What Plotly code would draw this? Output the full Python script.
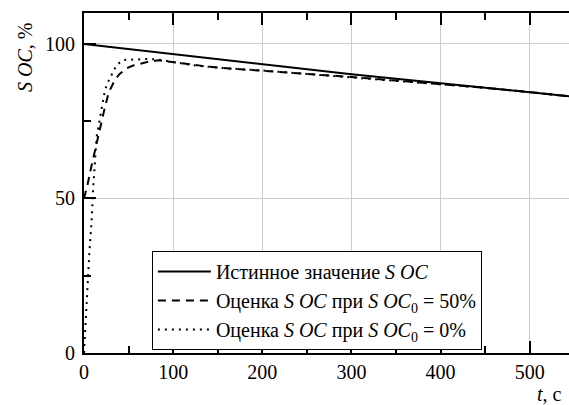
import plotly.graph_objects as go

# --- data ---
t_true = [0, 100, 200, 300, 400, 500, 545]
soc_true = [100, 96.7, 93.3, 90.2, 87.3, 84.4, 83.0]

t_est50 = [0, 2, 4, 8, 12, 16, 18.6, 22.3, 27.6, 34.7, 40, 47.8, 55, 63.5, 72, 83, 100, 120, 140, 160, 200, 250, 300, 350, 400, 450, 500, 545]
soc_est50 = [50, 52, 54.5, 60, 65, 71, 74.3, 78.1, 84.2, 88.4, 90.3, 92.1, 93.0, 93.6, 94.2, 94.7, 94.0, 93.2, 92.6, 92.1, 91.4, 90.3, 89.3, 88.2, 87.1, 85.8, 84.4, 83.0]

t_est0 = [0, 0.7, 1.9, 3.7, 6, 8.6, 10.4, 14.2, 18, 21, 23.5, 27.3, 31.7, 36.6, 44, 55, 70, 82, 92, 100, 120, 140, 160, 200, 250, 300, 350, 400, 450, 500, 545]
soc_est0 = [0, 4.2, 10.7, 21.5, 32.4, 43, 53.8, 70, 76.5, 81.4, 85.1, 87.9, 90.6, 93.2, 94.8, 95.0, 95.1, 95.0, 94.5, 94.0, 93.2, 92.6, 92.1, 91.4, 90.3, 89.3, 88.2, 87.1, 85.8, 84.4, 83.0]

names = [
    "Истинное значение <i>S OC</i>",
    "Оценка <i>S OC</i> при <i>S OC</i><sub>0</sub> = 50%",
    "Оценка <i>S OC</i> при <i>S OC</i><sub>0</sub> = 0%",
]

x_ticks = [0, 100, 200, 300, 400, 500]
y_ticks = [0, 50, 100]

FONT = "Liberation Serif"
FS = 20

fig = go.Figure()
fig.add_trace(go.Scatter(x=t_true, y=soc_true, mode="lines", name=names[0],
                         line=dict(color="black", width=2, dash="solid")))
fig.add_trace(go.Scatter(x=t_est50, y=soc_est50, mode="lines", name=names[1],
                         line=dict(color="black", width=2, dash="8px,6px")))
fig.add_trace(go.Scatter(x=t_est0, y=soc_est0, mode="lines", name=names[2],
                         line=dict(color="black", width=2, dash="2px,5px")))

fig.update_layout(
    width=569, height=405,
    margin=dict(l=84, r=0, t=13, b=52),
    plot_bgcolor="white", paper_bgcolor="white",
    font=dict(family=FONT, size=FS, color="black"),
    showlegend=True,
    legend=dict(x=0.14, y=0.30, xanchor="left", yanchor="top",
                bgcolor="white", bordercolor="black", borderwidth=1,
                font=dict(family=FONT, size=FS, color="black"),
                tracegroupgap=0, itemwidth=53),
    xaxis=dict(range=[0, 544], tickvals=x_ticks, ticktext=[str(v) for v in x_ticks],
               showline=True, linecolor="black", linewidth=2, mirror="allticks",
               ticks="inside", ticklen=12, tickwidth=2, tickcolor="black",
               showgrid=True, gridcolor="#cccccc", gridwidth=1, zeroline=False,
               minor=dict(dtick=50, ticks="inside", ticklen=7, tickwidth=1.5, tickcolor="black", showgrid=False),
               tickfont=dict(family=FONT, size=FS)),
    yaxis=dict(range=[0, 110], tickvals=y_ticks, ticktext=[str(v) for v in y_ticks],
               showline=True, linecolor="black", linewidth=2, mirror=False,
               ticks="inside", ticklen=12, tickwidth=2, tickcolor="black",
               showgrid=True, gridcolor="#cccccc", gridwidth=1, zeroline=False,
               minor=dict(dtick=25, ticks="inside", ticklen=7, tickwidth=1.5, tickcolor="black", showgrid=False),
               tickfont=dict(family=FONT, size=FS), ticklabelstandoff=3),
    annotations=[
        dict(text="<i>S OC</i>, %", xref="paper", yref="paper", x=-0.122, y=0.87,
             textangle=-90, showarrow=False, xanchor="center", yanchor="middle",
             font=dict(family=FONT, size=FS)),
        dict(text="<i>t</i>, с", xref="paper", yref="paper", x=0.99, y=-0.12,
             showarrow=False, xanchor="right", yanchor="middle",
             font=dict(family=FONT, size=FS)),
    ],
)

fig.write_html("out.html", config={"displayModeBar": False},
               post_script="document.body.style.margin='0';document.body.style.overflow='hidden';")
